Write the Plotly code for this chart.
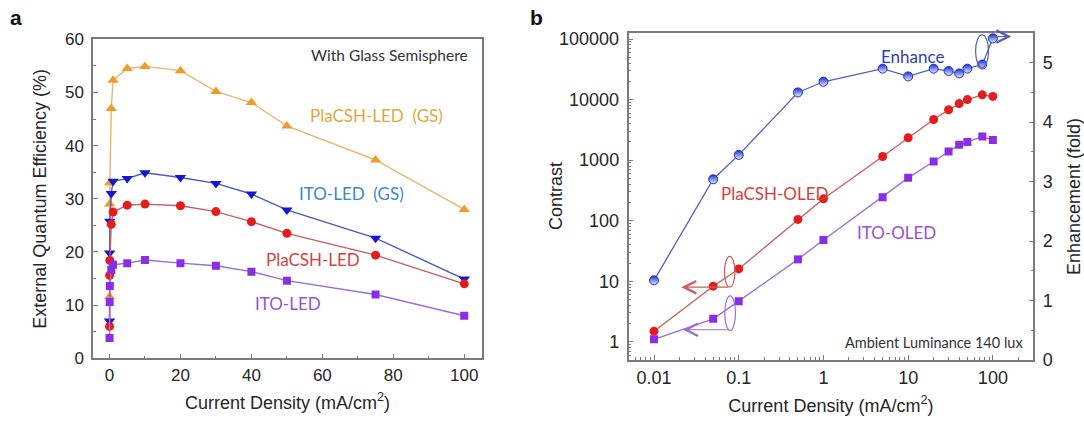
import math
import plotly.graph_objects as go

W, H = 1084, 421

# ---------------- data ----------------
current = [0.01, 0.05, 0.1, 0.5, 1, 5, 10, 20, 30, 40, 50, 75, 100]

# panel a: EQE (%)
eqe_placsh_gs = [11.6, 29.0, 33.0, 47.0, 52.3, 54.5, 54.9, 54.1, 50.2, 48.1, 43.7, 37.3, 28.0]
eqe_ito_gs = [7.0, 19.8, 25.8, 31.0, 33.3, 33.8, 34.9, 34.0, 32.9, 30.9, 27.9, 22.6, 14.9]
eqe_placsh = [6.0, 15.6, 18.4, 25.2, 27.5, 28.8, 29.0, 28.7, 27.6, 25.7, 23.5, 19.4, 14.0]
eqe_ito = [3.8, 10.6, 13.6, 16.6, 17.6, 17.9, 18.5, 17.9, 17.4, 16.3, 14.6, 12.0, 8.0]

# panel b: contrast and enhancement
contrast_placsh = [1.5, 8.3, 16, 105, 230, 1150, 2350, 4700, 6800, 8600, 10000, 12000, 11300]
contrast_ito = [1.1, 2.4, 4.7, 23, 48, 245, 510, 950, 1390, 1800, 2000, 2450, 2150]
enhance = [1.34, 3.04, 3.45, 4.50, 4.68, 4.90, 4.77, 4.90, 4.86, 4.82, 4.90, 4.97, 5.41]

a_xticks = [0, 20, 40, 60, 80, 100]
b_xticks = [0.01, 0.1, 1, 10, 100]
b_xticktext = ["0.01", "0.1", "1", "10", "100"]
b_yticks = [1, 10, 100, 1000, 10000, 100000]
b_yticktext = ["1", "10", "100", "1000", "10000", "100000"]

# ---------------- style ----------------
TICKFONT = "Liberation Sans, Arial, sans-serif"
LABELFONT = "Lato, Open Sans, sans-serif"
AXCOL = "#7a7a7a"
TXT = "#262626"

ORANGE_M, ORANGE_L, ORANGE_T = "#f39a2c", "#e8b66e", "#dfa83e"
BLUE_M, BLUE_L, BLUE_T = "#1414d2", "#4d58c4", "#3c8ac6"
RED_M, RED_L, RED_T = "#e41c1c", "#c95c5c", "#d2423c"
PURP_M, PURP_L, PURP_T = "#8a2ee6", "#9a6ed2", "#9a52d0"
ENH_M, ENH_L, ENH_T = "#1a30d0", "#5360bb", "#2f3eb2"

def px(x):
    return x / W

def py(y):
    return 1 - y / H

fig = go.Figure()

# ---- panel a traces ----
for ys, mc, lc, sym, sz in [
    (eqe_placsh_gs, ORANGE_M, ORANGE_L, "triangle-up", 10),
    (eqe_ito_gs, BLUE_M, BLUE_L, "triangle-down", 10),
    (eqe_placsh, RED_M, RED_L, "circle", 9),
    (eqe_ito, PURP_M, PURP_L, "square", 8),
]:
    fig.add_trace(go.Scatter(
        x=current, y=ys, mode="lines+markers", xaxis="x", yaxis="y",
        line=dict(color=lc, width=1.4),
        marker=dict(color=mc, symbol=sym, size=sz, line=dict(width=0)),
        showlegend=False))

# ---- panel b traces ----
fig.add_trace(go.Scatter(
    x=current, y=contrast_placsh, mode="lines+markers", xaxis="x2", yaxis="y2",
    line=dict(color=RED_L, width=1.3),
    marker=dict(color=RED_M, symbol="circle", size=9, line=dict(width=0)),
    showlegend=False))
fig.add_trace(go.Scatter(
    x=current, y=contrast_ito, mode="lines+markers", xaxis="x2", yaxis="y2",
    line=dict(color=PURP_L, width=1.3),
    marker=dict(color=PURP_M, symbol="square", size=8, line=dict(width=0)),
    showlegend=False))
fig.add_trace(go.Scatter(
    x=current, y=enhance, mode="lines+markers", xaxis="x2", yaxis="y3",
    line=dict(color=ENH_L, width=1.3),
    marker=dict(color=ENH_M, symbol="circle", size=9,
                gradient=dict(type="vertical", color="#e8ebff"),
                line=dict(color=ENH_M, width=1)),
    showlegend=False))

axis_common = dict(
    automargin=False,
    showline=True, linecolor=AXCOL, linewidth=1.5, mirror=True,
    showgrid=False, zeroline=False, ticks="inside", ticklen=5, tickwidth=1,
    tickcolor=AXCOL, ticklabelstandoff=4,
    tickfont=dict(family=TICKFONT, size=17, color=TXT),
    title_font=dict(family=TICKFONT, size=18, color=TXT),
)
tick18 = dict(family=TICKFONT, size=18, color=TXT)

minor_log = [m * 10 ** e for e in range(-3, 6) for m in range(2, 10)]

fig.update_layout(
    width=W, height=H,
    margin=dict(l=0, r=0, t=0, b=0, autoexpand=False),
    paper_bgcolor="white", plot_bgcolor="white",
    showlegend=False,
    xaxis=dict(
        **{**axis_common, "ticklabelstandoff": 1},
        domain=[px(93), px(482)], anchor="y",
        range=[-4.65, 105.0], tickmode="array", tickvals=a_xticks,
        minor=dict(ticks="inside", ticklen=3, dtick=10, tickcolor=AXCOL),
        title=dict(text="Current Density (mA/cm<sup>2</sup>)", standoff=12),
    ),
    yaxis=dict(
        **axis_common,
        domain=[py(358.3), py(39.3)], anchor="x",
        range=[0, 60], dtick=10,
        minor=dict(ticks="inside", ticklen=3, dtick=5, tickcolor=AXCOL),
        title=dict(text="External Quantum Efficiency (%)", standoff=14),
    ),
    xaxis2=dict(
        **{**axis_common, "tickfont": tick18, "ticklabelstandoff": 1},
        domain=[px(628.5), px(1033.3)], anchor="y2", type="log",
        range=[math.log10(0.005), math.log10(300)],
        tickmode="array", tickvals=b_xticks, ticktext=b_xticktext,
        minor=dict(ticks="inside", ticklen=3, tickcolor=AXCOL,
                   tickmode="array", tickvals=minor_log),
        title=dict(text="Current Density (mA/cm<sup>2</sup>)", standoff=12),
    ),
    yaxis2=dict(
        **{**axis_common, "tickfont": tick18, "mirror": False},
        domain=[py(360), py(33)], anchor="x2", type="log",
        range=[-0.3, 5.1],
        tickmode="array", tickvals=b_yticks, ticktext=b_yticktext,
        minor=dict(ticks="inside", ticklen=3, tickcolor=AXCOL,
                   tickmode="array", tickvals=minor_log),
    ),
    yaxis3=dict(
        **{**axis_common, "tickfont": tick18, "mirror": False},
        overlaying="y2", side="right", anchor="x2",
        range=[0, 5.5], dtick=1,
        minor=dict(ticks="inside", ticklen=3, dtick=0.5, tickcolor=AXCOL),
        title=dict(text="Enhancement (fold)", standoff=16),
    ),
)

ann = []
# panel letters
for letter, lx in [("a", 15.5), ("b", 536)]:
    ann.append(dict(text="<b>%s</b>" % letter, x=px(lx), y=py(17),
                    xref="paper", yref="paper", xanchor="center", yanchor="middle",
                    showarrow=False, font=dict(family=TICKFONT, size=21, color="#111")))
# left title of panel b (sits partly beside the wide tick labels)
ann.append(dict(text="Contrast", x=px(555.6), y=py(196.5), xref="paper", yref="paper",
                xanchor="center", yanchor="middle", textangle=-90, showarrow=False,
                font=dict(family=TICKFONT, size=18, color=TXT)))

def lab(text, x, y, color, size=17, xanchor="center"):
    ann.append(dict(text=text, x=px(x), y=py(y), xref="paper", yref="paper",
                    xanchor=xanchor, yanchor="middle", showarrow=False,
                    font=dict(family=LABELFONT, size=size, color=color)))

lab("With Glass Semisphere", 470, 55, "#333333", size=15.5, xanchor="right")
lab("PlaCSH-LED  (GS)", 376.7, 115, ORANGE_T)
lab("ITO-LED  (GS)", 351.6, 193, BLUE_T)
lab("PlaCSH-LED", 313, 259, RED_T)
lab("ITO-LED", 287.6, 303, PURP_T)

lab("Enhance", 912.6, 56, ENH_T)
lab("PlaCSH-OLED", 774.7, 193, RED_T)
lab("ITO-OLED", 896.7, 233, PURP_T)
lab("Ambient Luminance 140 lux", 1025, 342, "#333333", size=14.5, xanchor="right")

# axis-pointer arrows (open chevrons)
L = math.log10
for yref, xh, xt, yv, col in [
    ("y2", L(0.021), L(0.078), L(8.0), RED_L),
    ("y2", L(0.022), L(0.080), L(1.58), PURP_L),
    ("y3", L(165), L(84), 5.44, ENH_L),
]:
    ann.append(dict(x=xh, y=yv, ax=xt, ay=yv, xref="x2", yref=yref,
                    axref="x2", ayref=yref, text="", showarrow=True,
                    arrowhead=5, arrowsize=2.2, arrowwidth=1.1, arrowcolor=col))
fig.update_layout(annotations=ann)

# ellipses marking the series/axis correspondence
fig.add_shape(type="circle", xref="x2", yref="y2", x0=0.0679, x1=0.0902,
              y0=8.0, y1=25.7, line=dict(color=RED_L, width=1.2))
fig.add_shape(type="circle", xref="x2", yref="y2", x0=0.0685, x1=0.0915,
              y0=1.54, y1=5.75, line=dict(color=PURP_L, width=1.2))
fig.add_shape(type="circle", xref="x2", yref="y3", x0=62.5, x1=88.9,
              y0=4.92, y1=5.47, line=dict(color=ENH_L, width=1.2))

fig.write_html("out.html",
               config={"displayModeBar": False},
               post_script="document.body.style.margin='0';"
                           "document.body.style.overflow='hidden';")
